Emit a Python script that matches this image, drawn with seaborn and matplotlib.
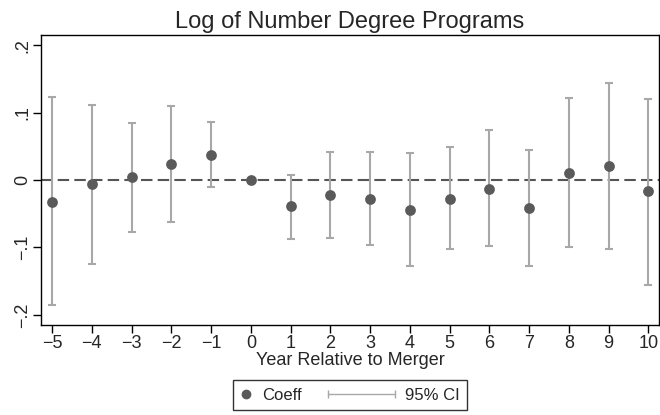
import matplotlib
matplotlib.use("Agg")
import matplotlib.pyplot as plt
import seaborn as sns
import pandas as pd
import numpy as np
from matplotlib.lines import Line2D
from matplotlib.legend_handler import HandlerLine2D, HandlerBase

years = [-5, -4, -3, -2, -1, 0, 1, 2, 3, 4, 5, 6, 7, 8, 9, 10]
coeff = [-0.032, -0.006, 0.004, 0.024, 0.037, 0.0, -0.039, -0.022, -0.028, -0.044, -0.028, -0.013, -0.042, 0.011, 0.020, -0.017]
ci_hi = [0.123, 0.111, 0.085, 0.110, 0.086, 0.0, 0.008, 0.041, 0.041, 0.040, 0.049, 0.074, 0.044, 0.122, 0.144, 0.120]
ci_lo = [-0.186, -0.124, -0.077, -0.063, -0.011, 0.0, -0.087, -0.086, -0.096, -0.128, -0.103, -0.098, -0.127, -0.100, -0.103, -0.155]
yticks = [-0.2, -0.1, 0.0, 0.1, 0.2]
ytick_labels = ["\u2212.2", "\u2212.1", "0", ".1", ".2"]
xtick_labels = ["\u22125", "\u22124", "\u22123", "\u22122", "\u22121", "0", "1", "2", "3", "4", "5", "6", "7", "8", "9", "10"]

df = pd.DataFrame({"year": years, "coeff": coeff, "lo": ci_lo, "hi": ci_hi})

sns.set_theme(style="white")
plt.rcParams["font.family"] = ["Liberation Sans", "DejaVu Sans"]

fig = plt.figure(figsize=(6.6, 4.15), dpi=100)
ax = fig.add_axes([0.0621, 0.2169, 0.9364, 0.6988])

ci_col = "#a8a8a8"
pt_col = "#5a5a5a"

ax.axhline(0, color="#555555", lw=1.5, ls=(0, (5.5, 2.5)), zorder=1)
mask = df["hi"] != df["lo"]
sub = df[mask]
ax.errorbar(sub["year"], sub["coeff"],
            yerr=[sub["coeff"] - sub["lo"], sub["hi"] - sub["coeff"]],
            fmt="none", ecolor=ci_col, elinewidth=1.5, capsize=3.2, capthick=1.5, zorder=2)
sns.scatterplot(data=df, x="year", y="coeff", ax=ax, color=pt_col, s=60,
                edgecolor=pt_col, linewidth=0, zorder=3, legend=False)

ax.set_xlim(-5.28, 10.27)
ax.set_ylim(-0.215, 0.215)
ax.set_xticks(years)
ax.set_xticklabels(xtick_labels, fontsize=13)
ax.set_yticks(yticks)
ax.set_yticklabels(ytick_labels, fontsize=13, rotation=90, va="center")
ax.tick_params(axis="both", which="major", direction="out", length=5.5, width=1,
               color="black", bottom=True, left=True, pad=1.5)
for s in ax.spines.values():
    s.set_color("black")
    s.set_linewidth(1.0)
ax.set_xlabel("Year Relative to Merger", fontsize=13, labelpad=0)
ax.set_ylabel("")
ax.set_title("Log of Number Degree Programs", fontsize=17, pad=5)


class HandlerCI(HandlerBase):
    def create_artists(self, legend, orig_handle, xdescent, ydescent,
                       width, height, fontsize, trans):
        L = 4.0 * fontsize
        x1 = -xdescent + width
        x0 = x1 - L
        y = -ydescent + height / 2.0
        line = Line2D([x0, x1], [y, y], color=ci_col, lw=1.0, transform=trans)
        caps = Line2D([x0, x1], [y, y], ls="none", marker="|", color=ci_col,
                      markersize=6, markeredgewidth=1.0, transform=trans)
        return [line, caps]


h1 = Line2D([], [], marker="o", color=pt_col, ls="none", markersize=6)
h2 = Line2D([], [], color=ci_col)
leg = fig.legend([h1, h2], ["Coeff", "95% CI"], loc="center",
                 bbox_to_anchor=(350 / 660, 1 - 395 / 415), ncol=2,
                 fontsize=12, frameon=True, fancybox=False, edgecolor="black",
                 handlelength=0.7, handletextpad=0.6, columnspacing=4.9,
                 borderpad=0.45,
                 handler_map={h2: HandlerCI(), h1: HandlerLine2D(numpoints=1)})
leg.get_frame().set_linewidth(1.0)

fig.savefig("out.png", dpi=100)
